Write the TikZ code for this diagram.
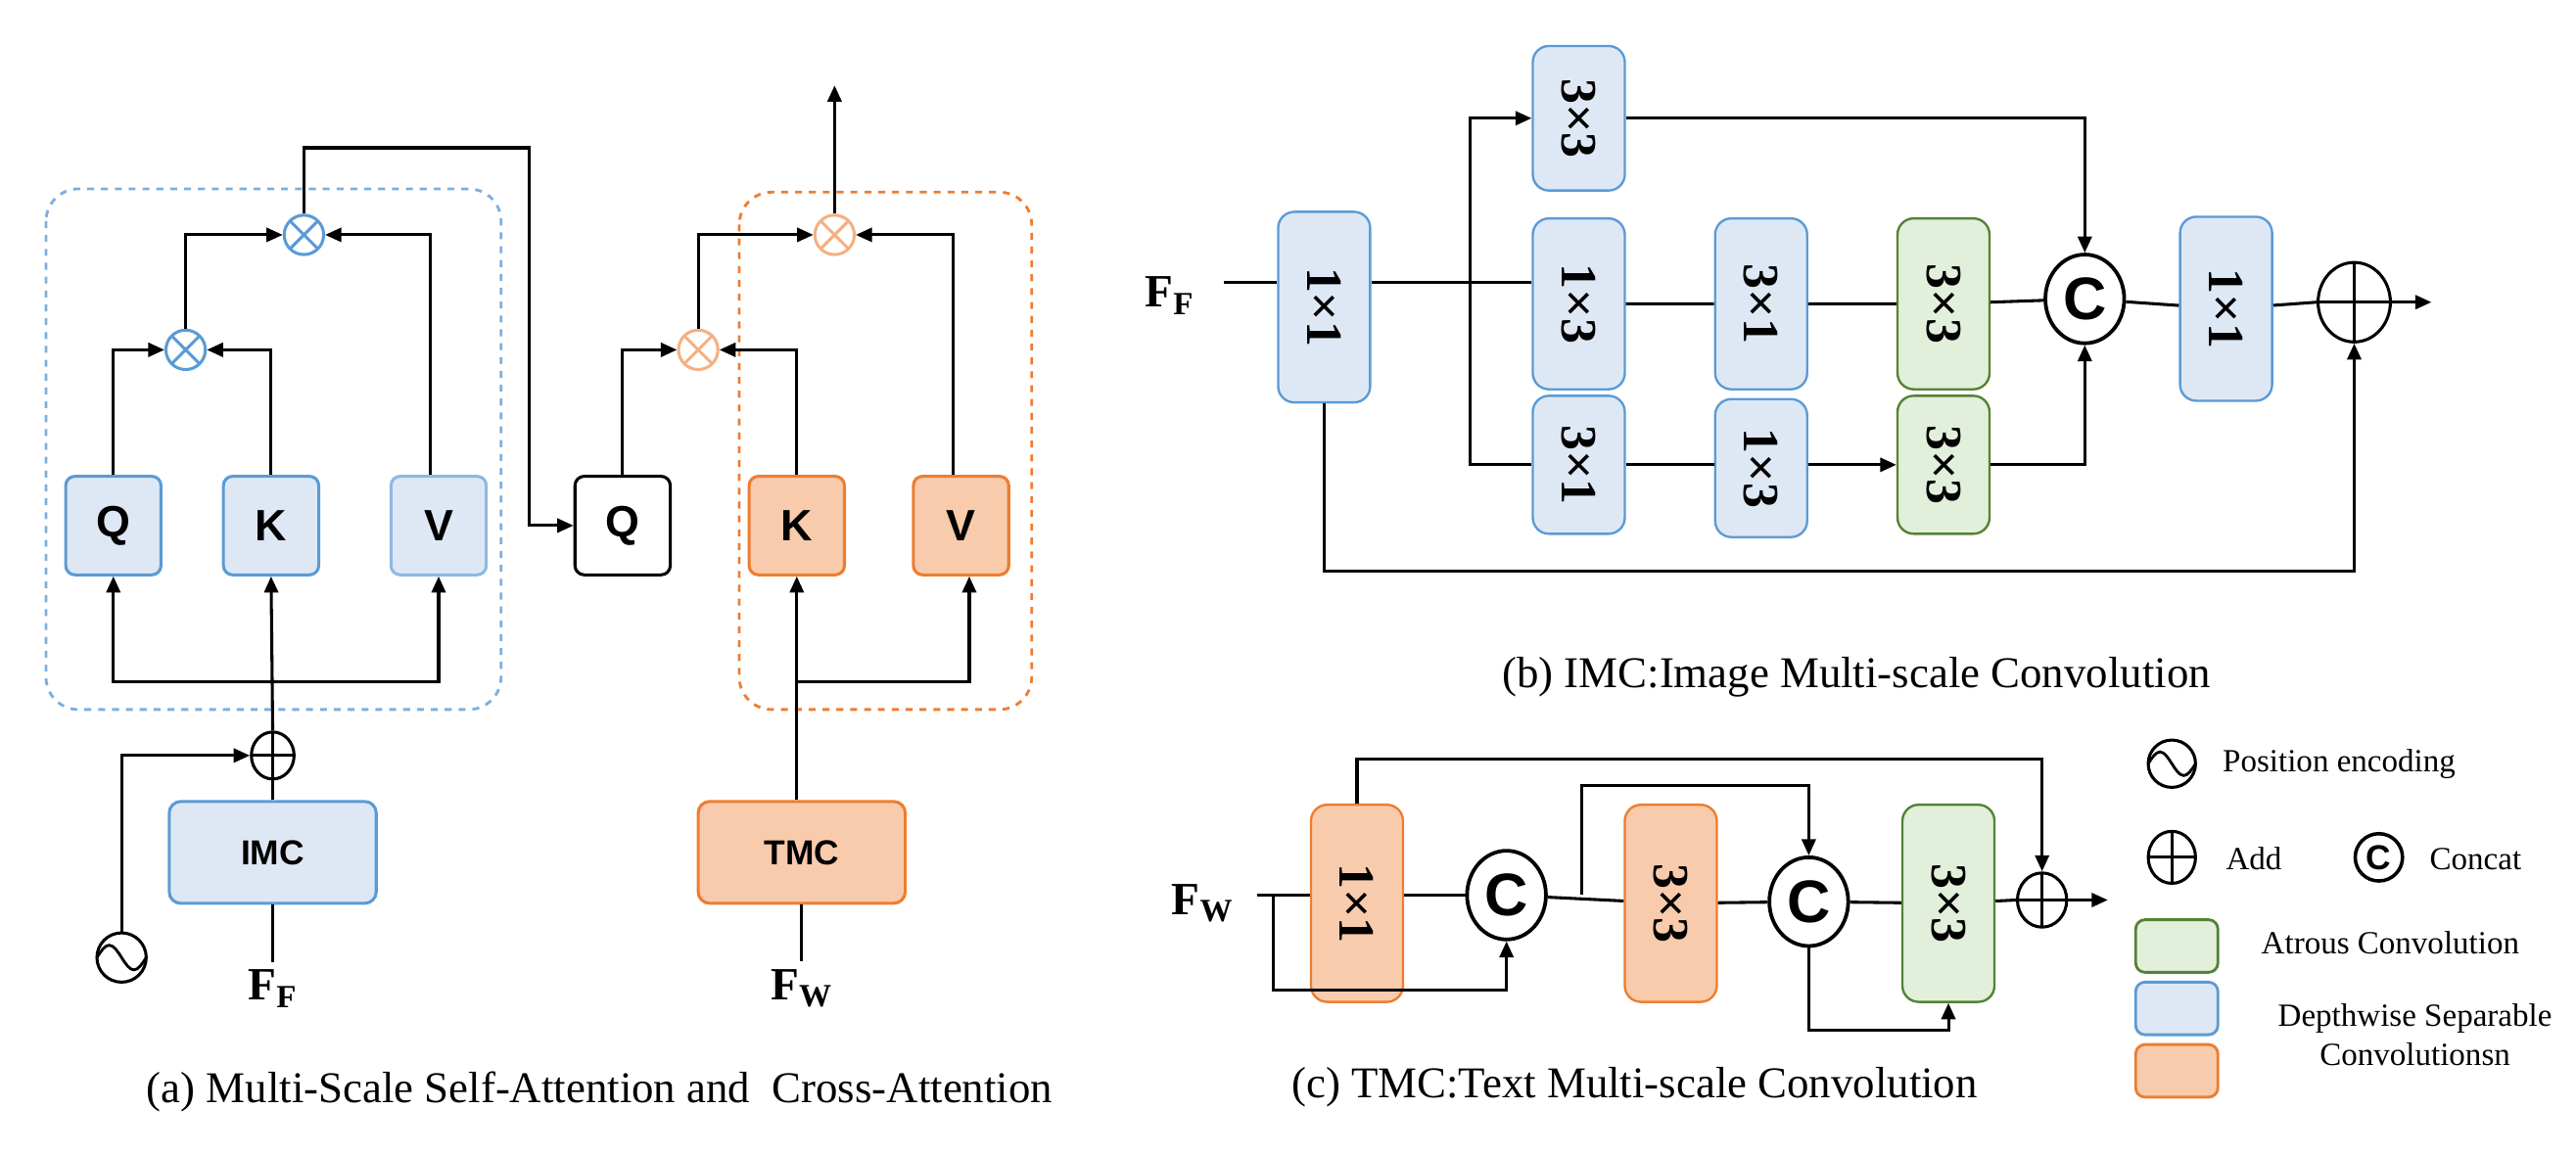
\documentclass[tikz,border=0pt]{standalone}
\usepackage{fontspec}
\setmainfont{Liberation Serif}
\newfontfamily\sansf{Liberation Sans}
\usetikzlibrary{arrows.meta,shapes.geometric,calc}
\definecolor{bfill}{HTML}{DEE8F5}
\definecolor{bline}{HTML}{5B9BD5}
\definecolor{ofill}{HTML}{F8CBAD}
\definecolor{oline}{HTML}{ED7D31}
\definecolor{olite}{HTML}{F4B183}
\definecolor{gfill}{HTML}{E2EFDA}
\definecolor{gline}{HTML}{548235}
\tikzset{
  >={Triangle[length=7pt,width=6pt]},
  ln/.style={line width=1.3pt},
  qkv/.style={draw,rounded corners=4pt,line width=1.3pt,minimum width=1.45cm,minimum height=1.5cm,font=\sansf\bfseries\fontsize{19}{19}\selectfont},
  blue/.style={fill=bfill,draw=bline},
  orng/.style={fill=ofill,draw=oline},
  grn/.style={fill=gfill,draw=gline},
  mc/.style={draw,rounded corners=5pt,line width=1.3pt,minimum width=3.15cm,minimum height=1.55cm,font=\sansf\bfseries\fontsize{15}{15}\selectfont},
  conv/.style={draw,rounded corners=7pt,line width=1pt,minimum width=1.4cm,minimum height=2.8cm},
  lab/.style={rotate=-90,font=\bfseries\fontsize{22}{22}\selectfont},
  mul/.style={circle,draw,line width=1.3pt,minimum size=0.6cm,inner sep=0pt,
    path picture={\draw[line width=1.3pt] (path picture bounding box.north west) -- (path picture bounding box.south east)
      (path picture bounding box.north east) -- (path picture bounding box.south west);}},
  add/.style={ellipse,draw,line width=1.3pt,minimum width=#1,minimum height=1.1*#1,inner sep=0pt,
    path picture={\draw[line width=1.2pt] (path picture bounding box.north) -- (path picture bounding box.south)
      (path picture bounding box.east) -- (path picture bounding box.west);}},
  cat/.style={ellipse,draw,line width=1.6pt,minimum width=1.2cm,minimum height=1.35cm,inner sep=0pt,font=\sansf\bfseries\fontsize{26}{26}\selectfont},
  pe/.style={circle,draw,line width=1.3pt,minimum size=#1,inner sep=0pt,
    path picture={\draw[line width=1.2pt] ([xshift=-0.5*#1]path picture bounding box.center) sin ++(0.25*#1,0.25*#1) cos ++(0.25*#1,-0.25*#1) sin ++(0.25*#1,-0.25*#1) cos ++(0.25*#1,0.25*#1);}},
  caption/.style={font=\fontsize{19}{19}\selectfont},
  leg/.style={font=\fontsize{14}{17}\selectfont,align=center},
  key/.style={rounded corners=4pt,line width=1.2pt,minimum width=1.25cm,minimum height=0.8cm}
}
\begin{document}
\begin{tikzpicture}[x=0.025cm,y=-0.025cm]
\useasboundingbox (0,0) rectangle (1568,703);
% (a) attention
\draw[bline!80,dashed,line width=1.2pt,rounded corners=14pt] (28,115) rectangle (305,432);
\draw[oline,dashed,line width=1.2pt,rounded corners=14pt] (450,117) rectangle (628,432);
\node[qkv,blue] (q1) at (69,320) {Q};
\node[qkv,blue] (k1) at (165,320) {K};
\node[qkv,blue,draw=bline!70] (v1) at (267,320) {V};
\node[qkv,fill=white] (q2) at (379,320) {Q};
\node[qkv,orng] (k2) at (485,320) {K};
\node[qkv,orng] (v2) at (585,320) {V};
\node[mul,draw=bline] (m1) at (113,213) {};
\node[mul,draw=bline] (m2) at (185,143) {};
\node[mul,draw=olite] (m3) at (425,213) {};
\node[mul,draw=olite] (m4) at (508,143) {};
\node[mc,blue] (imc) at (166,519) {IMC};
\node[mc,orng] (tmc) at (488,519) {TMC};
\node[add=0.65cm] (a1) at (166,460) {};
\node[pe=0.75cm] (pe1) at (74,583) {};
\node (ff) at (166,602) {\fontsize{20}{20}\selectfont$\mathbf{F_F}$};
\node (fw) at (488,602) {\fontsize{20}{20}\selectfont$\mathbf{F_W}$};
\coordinate (out) at (508,52);

\draw[ln,->] (q1.north) |- (m1.west);
\draw[ln,->] (k1.north) |- (m1.east);
\draw[ln,->] (m1.north) |- (m2.west);
\draw[ln,->] (v1.north -| 262,0) |- (m2.east);
\draw[ln,->] (m2.north) |- (322,90) |- (q2.west);
\draw[ln,->] (q2.north) |- (m3.west);
\draw[ln,->] (k2.north) |- (m3.east);
\draw[ln,->] (m3.north) |- (m4.west);
\draw[ln,->] (v2.north -| 580,0) |- (m4.east);
\draw[ln,->] (m4.north) -- (out);
\draw[ln] (ff.north) -- (imc.south);
\draw[ln] (imc.north) -- (a1.south);
\draw[ln,->] (a1.north) -- (k1.south);
\draw[ln,->] (165,415) -| (q1.south);
\draw[ln,->] (165,415) -| (v1.south);
\draw[ln,->] (pe1.north) |- (a1.west);
\draw[ln] (fw.north) -- (tmc.south);
\draw[ln,->] (tmc.north -| k2) -- (k2.south);
\draw[ln,->] (485,415) -| ($(v2.south)+(5,0)$);
\node[caption] at (365,665) {(a) Multi-Scale Self-Attention and~ Cross-Attention};

% (b) IMC
\node[conv,blue,minimum height=2.9cm] (b0) at (806,187) {}; \node[lab] at (b0) {1×1};
\node[conv,blue,minimum height=2.2cm] (b1) at (961,72) {}; \node[lab] at (b1) {3×3};
\node[conv,blue,minimum height=2.6cm] (b2) at (961,185) {}; \node[lab] at (b2) {1×3};
\node[conv,blue,minimum height=2.6cm] (b3) at (1072,185) {}; \node[lab] at (b3) {3×1};
\node[conv,grn,minimum height=2.6cm] (b4) at (1183,185) {}; \node[lab] at (b4) {3×3};
\node[conv,blue,minimum height=2.1cm] (b5) at (961,283) {}; \node[lab] at (b5) {3×1};
\node[conv,blue,minimum height=2.1cm] (b6) at (1072,285) {}; \node[lab] at (b6) {1×3};
\node[conv,grn,minimum height=2.1cm] (b7) at (1183,283) {}; \node[lab] at (b7) {3×3};
\node[cat] (bc) at (1269,182) {C};
\node[conv,blue] (b8) at (1355,188) {}; \node[lab] at (b8) {1×1};
\node[add=1.1cm] (ba) at (1433,184) {};
\node (bf) at (712,180) {\fontsize{20}{20}\selectfont$\mathbf{F_F}$};
\coordinate (bin) at (745,172);
\coordinate (bout) at (1480,184);

\draw[ln] (bin) -- (b0.west |- bin);
\draw[ln] (b0.east |- bin) -- (b2.west |- bin);
\draw[ln] (b2) -- (b3) (b3) -- (b4) (b4) -- (bc) (bc) -- (b8) (b8) -- (ba.west);
\draw[ln,->] (ba.east) -- (bout);
\draw[ln,->] (895,184) |- (b1.west);
\draw[ln] (895,184) |- (b5.west);
\draw[ln] (b5.east) -- (b6.west |- b5);
\draw[ln,->] (b6.east |- b7) -- (b7.west);
\draw[ln,->] (b1.east) -| (bc.north);
\draw[ln,->] (b7.east) -| (bc.south);
\draw[ln,->] (b0.south) |- (1433,348) -- (ba.south);
\node[caption] at (1130,412) {(b) IMC:Image Multi-scale Convolution};

% (c) TMC
\node[conv,orng,minimum height=3cm] (c0) at (826,550) {}; \node[lab] at (c0) {1×1};
\node[cat] (cc1) at (917,545) {C};
\node[conv,orng,minimum height=3cm] (c1) at (1017,550) {}; \node[lab] at (c1) {3×3};
\node[cat] (cc2) at (1101,549) {C};
\node[conv,grn,minimum height=3cm] (c2) at (1186,550) {}; \node[lab] at (c2) {3×3};
\node[add=0.75cm] (ca) at (1243,548) {};
\node (cf) at (732,550) {\fontsize{20}{20}\selectfont$\mathbf{F_W}$};
\coordinate (cin) at (765,545);
\coordinate (cout) at (1283,548);

\draw[ln] (cin) -- (c0.west |- cin);
\draw[ln] (c0.east |- cc1) -- (cc1.west);
\draw[ln] (cc1) -- (c1) (c1) -- (cc2) (cc2) -- (c2) (c2) -- (ca.west);
\draw[ln,->] (ca.east) -- (cout);
\draw[ln,->] (775,545) |- (917,603) -- (cc1.south);
\draw[ln,->] (c0.north) |- (1243,462) -- (ca.north);
\draw[ln,->] (963,545) |- (1101,478) -- (cc2.north);
\draw[ln,->] (cc2.south) |- (1186,627) -- (c2.south);
\node[caption] at (995,662) {(c) TMC:Text Multi-scale Convolution};

% legend
\node[pe=0.72cm] (lpe) at (1322,465) {};
\node[leg,anchor=west] at (1348,465) {Position encoding};
\node[add=0.72cm] (lad) at (1322,522) {};
\node[leg,anchor=west] at (1350,523) {Add};
\node[circle,draw,line width=1.5pt,minimum size=0.72cm,inner sep=0pt,font=\sansf\bfseries\fontsize{15}{15}\selectfont] (lcat) at (1448,522) {C};
\node[leg,anchor=west] at (1474,523) {Concat};
\node[key,draw=gline,fill=gfill] (lg) at (1325,576) {};
\node[key,draw=bline,fill=bfill] (lb) at (1325,614) {};
\node[key,draw=oline,fill=ofill] (lo) at (1325,652) {};
\node[leg] at (1455,574) {Atrous Convolution};
\node[leg] at (1470,630) {Depthwise Separable\\Convolutionsn};
\end{tikzpicture}
\end{document}
